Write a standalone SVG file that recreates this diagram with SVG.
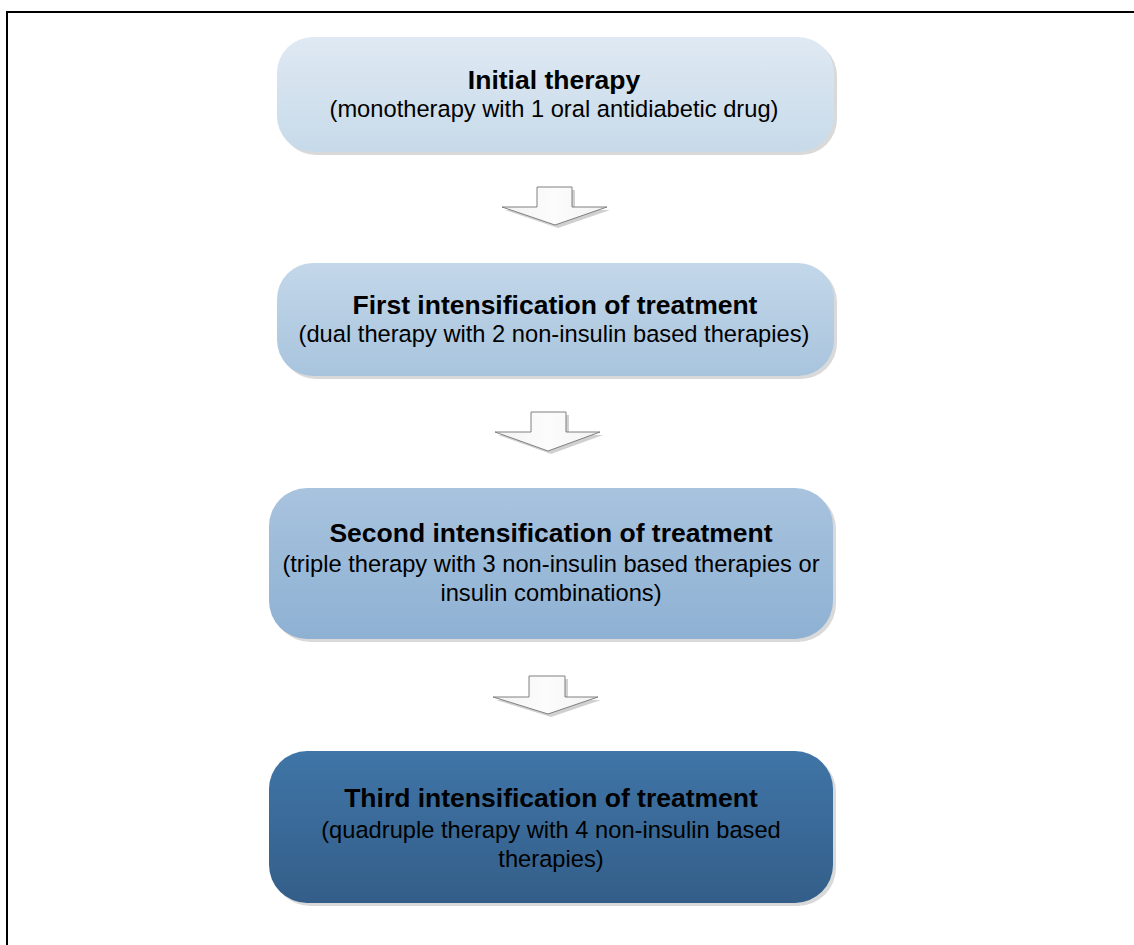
<svg xmlns="http://www.w3.org/2000/svg" width="1134" height="945" viewBox="0 0 1134 945">
<style>
.t{font-family:"Liberation Sans",Arial,sans-serif;font-weight:bold;font-size:26.5px;fill:#000;text-anchor:middle}
.s{font-family:"Liberation Sans",Arial,sans-serif;font-size:23.7px;fill:#000;text-anchor:middle}
.arr{fill:url(#ga);stroke:#808080;stroke-width:1}
.sh{fill:#d0d0d0}
</style>
<defs>
<linearGradient id="g1" x1="0" y1="0" x2="0" y2="1"><stop offset="0" stop-color="#dfe9f3"/><stop offset="1" stop-color="#c7dae9"/></linearGradient>
<linearGradient id="g2" x1="0" y1="0" x2="0" y2="1"><stop offset="0" stop-color="#c3d7e9"/><stop offset="1" stop-color="#a8c4dd"/></linearGradient>
<linearGradient id="g3" x1="0" y1="0" x2="0" y2="1"><stop offset="0" stop-color="#a8c3de"/><stop offset="1" stop-color="#8eb1d3"/></linearGradient>
<linearGradient id="g4" x1="0" y1="0" x2="0" y2="1"><stop offset="0" stop-color="#3f75a7"/><stop offset="1" stop-color="#345e89"/></linearGradient>
<linearGradient id="ga" x1="0" y1="0" x2="1" y2="0"><stop offset="0" stop-color="#f2f2f2"/><stop offset="0.5" stop-color="#fcfcfc"/><stop offset="1" stop-color="#f2f2f2"/></linearGradient>
</defs>
<rect width="1134" height="945" fill="#fff"/>
<path d="M7,945 V12 H1134" fill="none" stroke="#000" stroke-width="2"/>

<g id="connectors">
<path class="sh" d="M540,190 H575 V210 H610 L558,228 L505,210 H540 Z"/>
<path class="arr" d="M537,187 H572 V207 H607 L555,225 L502,207 H537 Z"/>
<path class="sh" d="M534,415 H569 V435 H603 L551,454 L498,435 H534 Z"/>
<path class="arr" d="M531,412 H566 V432 H600 L548,451 L495,432 H531 Z"/>
<path class="sh" d="M532,679 H568 V700 H601 L551,717 L496,700 H532 Z"/>
<path class="arr" d="M529,676 H565 V697 H598 L548,714 L493,697 H529 Z"/>
</g>

<g id="node1">
<rect x="280" y="40" width="557" height="115" rx="36" fill="#d9d9d9"/>
<rect x="277" y="37" width="557" height="115" rx="36" fill="url(#g1)"/>
<text class="t" x="554" y="89">Initial therapy</text>
<text class="s" x="554" y="117">(monotherapy with 1 oral antidiabetic drug)</text>
</g>

<g id="node2">
<rect x="280" y="266" width="557" height="113" rx="36" fill="#d9d9d9"/>
<rect x="277" y="263" width="557" height="113" rx="36" fill="url(#g2)"/>
<text class="t" x="555" y="314">First intensification of treatment</text>
<text class="s" x="554" y="342">(dual therapy with 2 non-insulin based therapies)</text>
</g>

<g id="node3">
<rect x="272" y="491" width="564" height="151" rx="38" fill="#d9d9d9"/>
<rect x="269" y="488" width="564" height="151" rx="38" fill="url(#g3)"/>
<text class="t" x="551" y="542">Second intensification of treatment</text>
<text class="s" x="551" y="572">(triple therapy with 3 non-insulin based therapies or</text>
<text class="s" x="551" y="601">insulin combinations)</text>
</g>

<g id="node4">
<rect x="272" y="754" width="564" height="152" rx="38" fill="#d9d9d9"/>
<rect x="269" y="751" width="564" height="152" rx="38" fill="url(#g4)"/>
<text class="t" x="551" y="807">Third intensification of treatment</text>
<text class="s" x="551" y="838">(quadruple therapy with 4 non-insulin based</text>
<text class="s" x="551" y="867">therapies)</text>
</g>
</svg>
